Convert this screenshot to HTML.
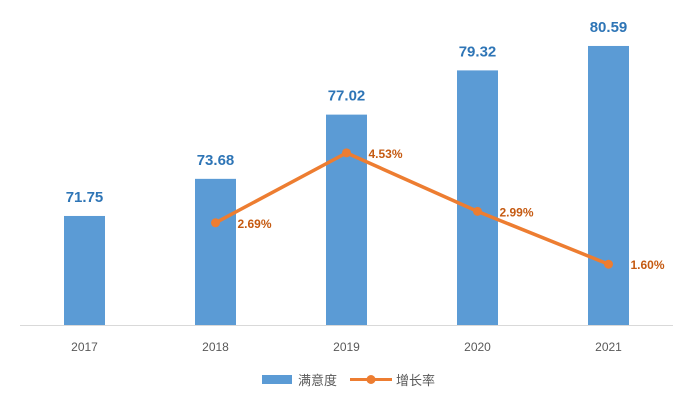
<!DOCTYPE html>
<html><head><meta charset="utf-8"><style>
body{margin:0;background:#fff;}
svg{display:block;font-family:"Liberation Sans","Noto Sans CJK SC",sans-serif;}
</style></head><body>
<svg id="chart" width="693" height="404">
<line x1="20" y1="325.5" x2="673" y2="325.5" stroke="#d9d9d9" stroke-width="1"/>
<g id="bars"></g>
<g id="line"></g>
<g id="labels"></g>
<g>
<rect x="262" y="375" width="30" height="9" fill="#5b9bd5"/>
<text x="298" y="385" font-size="13" fill="#595959">满意度</text>
<line x1="350" y1="379.5" x2="392" y2="379.5" stroke="#ed7d31" stroke-width="3"/>
<circle cx="371" cy="379.5" r="4.5" fill="#ed7d31"/>
<text x="396" y="385" font-size="13" fill="#595959">增长率</text>
</g>
</svg>
<script>
const categories=["2017","2018","2019","2020","2021"];
const satisfaction=[71.75,73.68,77.02,79.32,80.59];
const growth=[null,2.69,4.53,2.99,1.60];
const NS="http://www.w3.org/2000/svg";
const base=325;
function xC(i){return 84.5+i*131;}
function yBar(v){return base-(v-66.08)*19.23;}
function yLine(v){return base-v*38;}
function mk(tag,attrs,parent,text){const e=document.createElementNS(NS,tag);for(const k in attrs)e.setAttribute(k,attrs[k]);if(text!==undefined)e.textContent=text;parent.appendChild(e);return e;}
const gb=document.getElementById('bars'),gl=document.getElementById('line'),gt=document.getElementById('labels');
categories.forEach((c,i)=>{
 const y=yBar(satisfaction[i]);
 const r=mk('rect',{x:xC(i)-20.5,y:y,width:41,height:base-y,fill:'#5b9bd5'},gb);
 
 
 const t=mk('text',{x:xC(i),y:y-14,'text-anchor':'middle','font-size':15,'font-weight':'bold',fill:'#2e75b6'},gt,satisfaction[i].toFixed(2));
 
 
 const xl=mk('text',{x:xC(i),y:351,'text-anchor':'middle','font-size':12,fill:'#595959'},gt,c);
 
 
});
let pts=[];
growth.forEach((v,i)=>{if(v!==null)pts.push([xC(i),yLine(v),v,i]);});
const pl=mk('polyline',{points:pts.map(p=>p[0]+','+p[1]).join(' '),fill:'none',stroke:'#ed7d31','stroke-width':3.5,'stroke-linejoin':'round'},gl);


pts.forEach(p=>{
 const c=mk('circle',{cx:p[0],cy:p[1],r:4.5,fill:'#ed7d31'},gl);
 
 
 const t=mk('text',{x:p[0]+22,y:p[1]+5,'font-size':12,'font-weight':'bold',fill:'#c55a11'},gt,p[2].toFixed(2)+'%');
 
 
});
</script>
</body></html>
